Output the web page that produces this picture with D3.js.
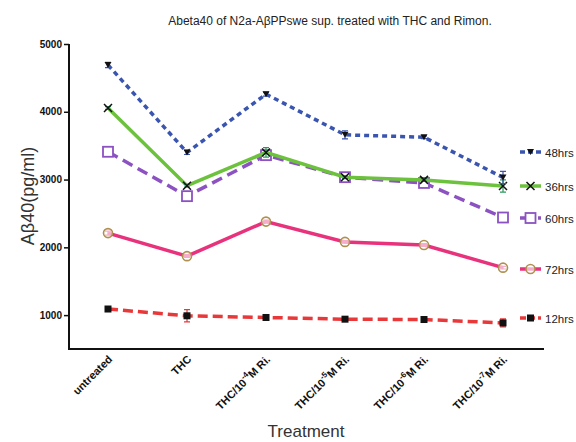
<!DOCTYPE html>
<html><head><meta charset="utf-8">
<script src="https://cdn.jsdelivr.net/npm/d3@7"></script>
<style>body{margin:0;background:#fff}svg{display:block}text{font-family:"Liberation Sans",Arial,sans-serif}</style>
</head><body><svg id="c" width="576" height="442"></svg>
<script>
const categories = ["untreated","THC","THC/10-4M Ri.","THC/10-5M Ri.","THC/10-6M Ri.","THC/10-7M Ri."];
const exps = [null,null,"-4","-5","-6","-7"];
const yTicks = [1000,2000,3000,4000,5000];
const s48 = [4690,3400,4260,3660,3625,3030];
const s36 = [4055,2910,3400,3035,2995,2905];
const s60 = [3410,2755,3360,3035,2950,2440];
const s72 = [2210,1870,2380,2080,2035,1700];
const s12 = [1090,990,965,940,935,885];
const e48 = [40,30,30,60,20,90];
const e36 = [20,20,70,20,20,90];
const e60 = [40,40,30,30,20,20];
const e72 = [30,20,20,20,20,20];
const e12 = [20,90,20,20,20,60];
const names = ["48hrs","36hrs","60hrs","72hrs","12hrs"];

const series = [
 {name:"48hrs", v:s48, e:e48, color:"#3a55b0", dash:"5,4", marker:"tri", ecol:"#3a55b0"},
 {name:"36hrs", v:s36, e:e36, color:"#6cc23c", dash:null, marker:"x", ecol:"#2a9a5a"},
 {name:"60hrs", v:s60, e:e60, color:"#8c52c2", dash:"11,6", marker:"sq", ecol:"#8c52c2"},
 {name:"72hrs", v:s72, e:e72, color:"#e8327c", dash:null, marker:"circ", ecol:"#e8327c"},
 {name:"12hrs", v:s12, e:e12, color:"#e8383a", dash:"10,5", marker:"bsq", ecol:"#e8383a"}
];

const svg = d3.select("#c");
const x = d3.scalePoint().domain(categories).range([108,503]);
const y = d3.scaleLinear().domain([500,5000]).range([349,44]);

svg.append("line").attr("x1",69).attr("x2",69).attr("y1",44).attr("y2",350).attr("stroke","#111").attr("stroke-width",2);
svg.append("line").attr("x1",68).attr("x2",544).attr("y1",349).attr("y2",349).attr("stroke","#111").attr("stroke-width",2);
const yAxis = svg.append("g").attr("transform","translate(69,0)")
  .call(d3.axisLeft(y).tickValues(yTicks).tickSize(5).tickFormat(d3.format("d")));
yAxis.select(".domain").remove();
yAxis.selectAll(".tick line").attr("stroke","#111").attr("stroke-width",1.5);
yAxis.selectAll(".tick text").attr("font-size","10px").attr("font-weight","bold").attr("fill","#111").attr("x",-7);

categories.forEach((c,i)=>{
  const t = svg.append("text").attr("text-anchor","end").attr("font-size","11px").attr("font-weight","bold").attr("fill","#111")
    .attr("transform",`translate(${x(c)+5},${360}) rotate(-45)`);
  if(exps[i]){
    t.append("tspan").text("THC/10");
    t.append("tspan").attr("font-size","8px").attr("dy",-5).text(exps[i]);
    t.append("tspan").attr("dy",5).text("M Ri.");
  } else t.text(c);
});

svg.append("text").attr("x",330).attr("y",25).attr("text-anchor","middle").attr("font-size","12px").attr("fill","#222")
  .text("Abeta40 of N2a-AβPPswe sup. treated with THC and Rimon.");
svg.append("text").attr("transform","translate(34,196) rotate(-90)").attr("text-anchor","middle").attr("font-size","18px").attr("fill","#333").text("Aβ40(pg/ml)");
svg.append("text").attr("x",306).attr("y",437).attr("text-anchor","middle").attr("font-size","17px").attr("fill","#333").text("Treatment");

function marker(g, s, cx, cy){
  if(s.marker==="tri"){
    g.append("path").attr("d",`M${cx-3.5},${cy-3}L${cx+3.5},${cy-3}L${cx},${cy+3}Z`).attr("fill","#111");
  } else if(s.marker==="x"){
    g.append("path").attr("d",`M${cx-4},${cy-4}L${cx+4},${cy+4}M${cx-4},${cy+4}L${cx+4},${cy-4}`).attr("stroke","#111").attr("stroke-width",1.5);
  } else if(s.marker==="sq"){
    g.append("rect").attr("x",cx-5).attr("y",cy-5).attr("width",10).attr("height",10).attr("fill","#fff").attr("stroke",s.color).attr("stroke-width",1.8);
  } else if(s.marker==="circ"){
    g.append("circle").attr("cx",cx).attr("cy",cy).attr("r",4.5).attr("fill","#fff").attr("fill-opacity",0.6).attr("stroke","#b09050").attr("stroke-width",1.6);
  } else if(s.marker==="bsq"){
    g.append("rect").attr("x",cx-3.5).attr("y",cy-3.5).attr("width",7).attr("height",7).attr("fill","#111");
  }
}

const line = d3.line().x((d,i)=>x(categories[i])).y(d=>y(d));
[4,3,2,1,0].forEach(k=>{
  const s = series[k];
  const g = svg.append("g");
  const p = g.append("path").datum(s.v).attr("d",line).attr("fill","none").attr("stroke",s.color).attr("stroke-width",3.5);
  if(s.dash) p.attr("stroke-dasharray",s.dash);
  s.v.forEach((v,i)=>{
    const cx = x(categories[i]);
    const e = s.e[i];
    g.append("path").attr("d",`M${cx},${y(v+e)}V${y(v-e)}M${cx-3},${y(v+e)}H${cx+3}M${cx-3},${y(v-e)}H${cx+3}`).attr("stroke",s.ecol).attr("stroke-width",1.2).attr("fill","none");
    marker(g, s, cx, y(v));
  });
});

const legY = {"48hrs":152,"36hrs":186,"60hrs":218,"72hrs":269,"12hrs":318};
series.forEach(s=>{
  const ly = legY[s.name];
  const g = svg.append("g");
  const p = g.append("line").attr("x1",520).attr("x2",541).attr("y1",ly).attr("y2",ly).attr("stroke",s.color).attr("stroke-width",3.5);
  if(s.dash) p.attr("stroke-dasharray", s.marker==="tri" ? "5,3" : "6,3");
  marker(g, s, 530.5, ly);
  g.append("text").attr("x",545).attr("y",ly+4.5).attr("font-size","11.5px").attr("fill","#222").text(s.name);
});
</script></body></html>
